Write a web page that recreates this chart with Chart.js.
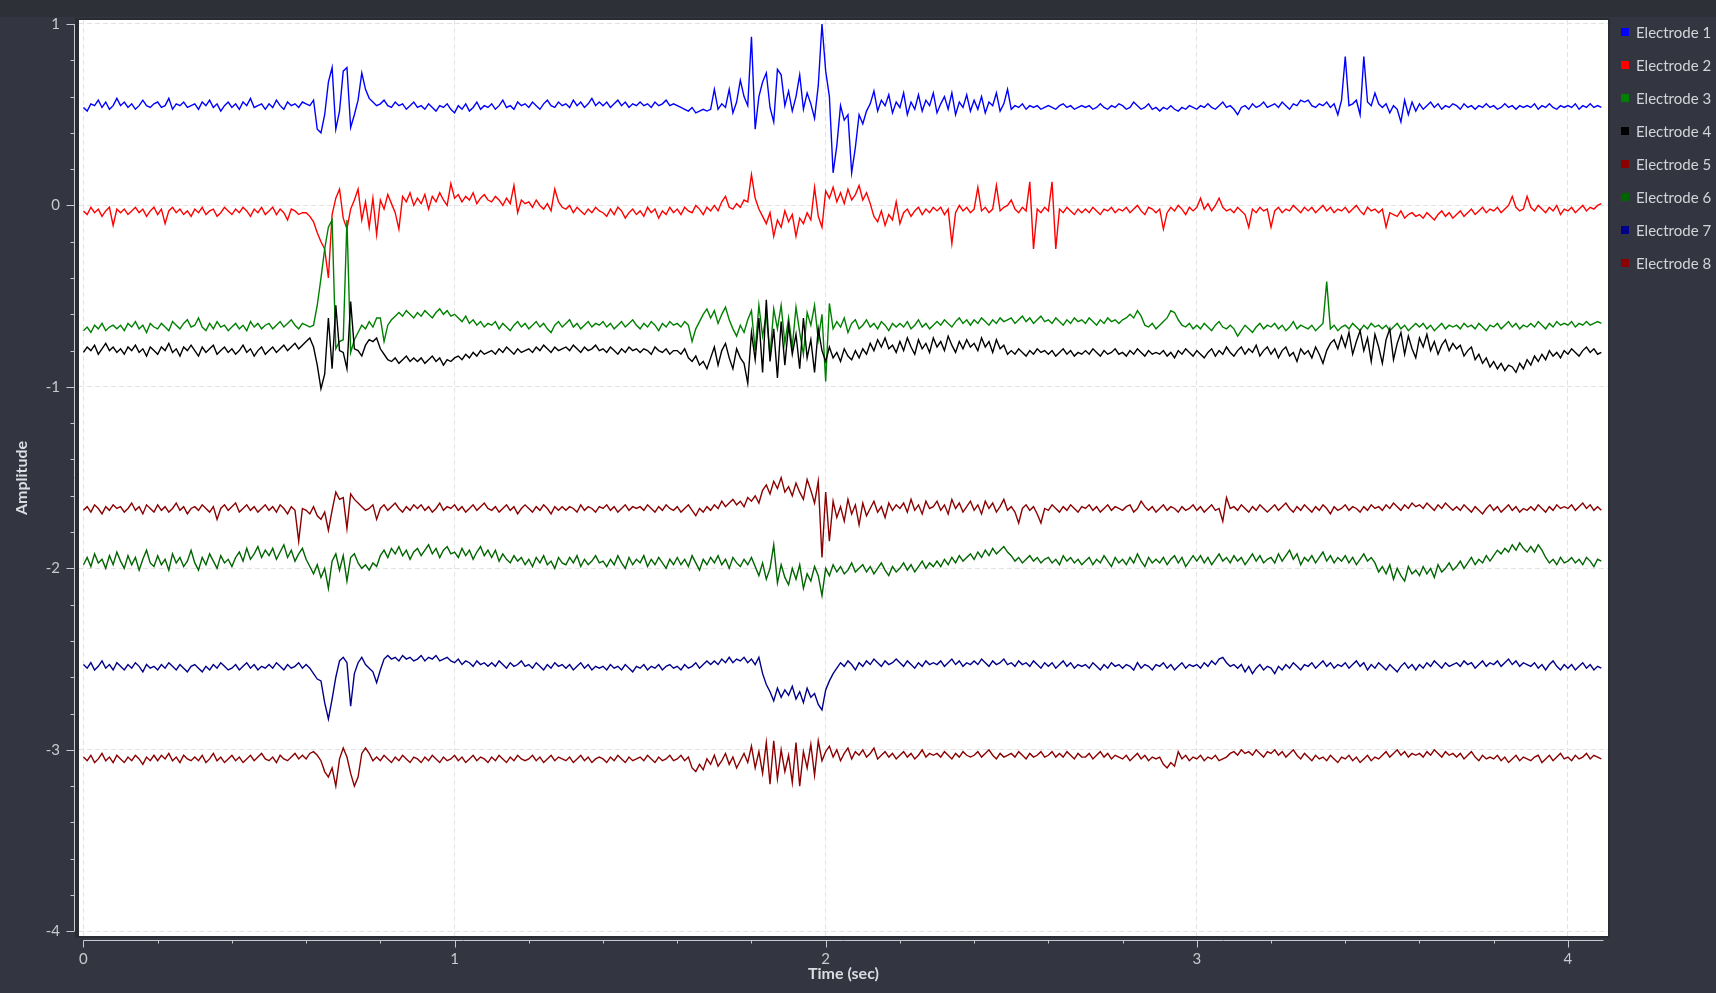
<!DOCTYPE html>
<html>
<head>
<meta charset="utf-8">
<title>Electrodes</title>
<script src="https://cdn.jsdelivr.net/npm/chart.js@4.4.1/dist/chart.umd.min.js"></script>
<style>
  html, body { margin: 0; padding: 0; background: #333640; overflow: hidden; }
  canvas { display: block; }
</style>
</head>
<body>
<canvas id="eeg" width="1716" height="993"></canvas>
<script>
// one sample every 10 ms, amplitudes stored in hundredths
const sampleStep = 0.01;

const electrode1 = [
  54,52,56,55,58,54,57,53,55,59, 55,57,54,56,53,55,58,55,54,56, 57,54,55,59,53,56,55,57,54,55,
  56,53,57,55,58,54,56,52,55,57, 54,56,53,57,55,59,54,55,56,53, 56,54,58,55,53,57,55,56,54,57,
  56,55,58,42,40,50,68,76,42,52, 74,76,43,50,58,73,64,59,57,55, 56,58,55,54,57,55,56,53,55,57,
  54,55,53,56,54,52,55,54,56,53, 51,55,53,56,52,54,57,53,55,54, 56,53,55,58,54,55,53,57,55,56,
  54,57,55,53,56,58,55,54,57,55, 56,54,58,55,57,54,56,59,55,57, 55,57,54,56,58,55,57,54,56,55,
  57,55,56,54,57,55,56,58,55,56, 55,54,53,52,54,51,52,53,52,53, 64,53,56,54,64,51,57,69,60,55,
  93,42,60,68,73,54,46,75,72,55, 63,52,60,72,53,62,56,48,66,100, 74,60,18,33,55,47,50,18,32,50,
  45,52,56,63,52,58,55,61,51,57, 54,62,50,57,53,61,52,58,55,62, 51,56,60,53,62,50,57,54,61,52,
  58,53,60,51,57,55,62,52,56,64, 53,55,54,56,53,55,54,55,53,54, 55,54,53,55,56,54,55,53,54,55,
  54,55,53,54,56,54,53,55,54,56, 55,53,54,57,55,53,54,56,53,54, 52,54,53,55,53,52,54,53,55,54,
  53,55,54,56,54,53,55,57,54,55, 53,50,54,55,53,56,54,55,57,54, 55,56,54,57,55,53,56,55,58,57,
  58,55,54,56,55,57,54,56,50,58, 82,55,56,58,50,82,57,55,62,56, 54,56,51,55,53,46,58,50,57,52,
  56,53,55,57,54,56,53,55,54,56, 55,53,56,54,55,53,55,54,56,54, 55,53,54,56,54,55,53,55,54,55,
  54,56,53,55,54,56,54,53,55,54, 55,54,56,53,55,54,56,54,55,54
];

const electrode2 = [
  -3,-5,-1,-4,-2,-6,-3,-1,-11,-2, -4,-2,-5,-3,-1,-4,-2,-6,-3,-1, -5,-2,-10,-3,-1,-4,-2,-5,-3,-6,
  -2,-4,-1,-5,-3,-2,-6,-4,-1,-3, -5,-2,-4,-1,-3,-6,-2,-4,-1,-5, -3,-1,-5,-2,-4,-8,-2,-3,-5,-4,
  -4,-6,-9,-15,-20,-24,-40,-5,4,9, -7,-13,-2,3,9,-8,2,-12,4,-16, 3,-2,6,1,-4,-13,5,2,7,0,
  4,1,6,-2,5,2,7,3,0,12, 4,6,2,5,3,7,1,4,6,3, 2,5,3,0,4,1,11,-4,3,1,
  2,-1,3,0,-2,1,-3,9,2,-1, -2,0,-4,-1,-3,-5,-2,-4,-1,-3, -4,-6,-2,-5,-1,-3,-7,-4,-2,-5,
  -3,-6,-1,-4,-2,-7,-3,-5,-1,-4, -2,-5,-1,-3,-4,0,-2,-5,-1,-3, 0,-3,2,5,-1,-2,1,-1,3,2,
  17,4,-2,-6,-10,-4,-17,-8,-12,-3, -9,-5,-17,-7,-10,-4,-8,10,-6,-12, 8,4,10,2,7,1,9,3,6,11,
  3,7,1,-6,-9,-3,-11,-5,-8,2, -10,-4,-2,-6,-3,-1,-5,-2,-4,-1, -3,-1,-5,-2,-21,-4,0,-3,-1,-4,
  -2,10,-3,-1,-4,-2,11,-3,-1,0, 3,-2,-4,-1,-3,13,-24,-2,-4,-1, -3,13,-24,-2,-4,-1,-3,-5,-2,-4,
  -2,-4,-1,-3,-5,-2,-3,-1,-4,-2, -3,-1,-4,-2,0,-3,-5,-1,-2,-4, -2,-13,-4,-1,-3,0,-2,-5,-1,-3,
  -1,4,-2,1,-3,0,4,-1,-3,-2, -4,-1,-3,-5,-12,-2,-4,-1,-3,-2, -12,-3,-1,-4,-2,-3,0,-2,-4,-1,
  -3,-1,-4,-2,0,-3,-1,-4,-2,-3, -1,-4,-2,0,-3,-5,-1,-3,-2,-4, -2,-12,-4,-5,-6,-3,-7,-5,-4,-6,
  -5,-7,-4,-6,-8,-5,-3,-6,-4,-7, -5,-3,-6,-4,-2,-5,-3,-1,-4,-2, -3,-1,-4,-2,0,5,-1,-3,-2,5,
  -1,-3,0,-2,-4,-1,-3,0,-5,-2, -3,-1,-4,-2,0,-3,-1,-2,0,1
];

const electrode3 = [
  -69,-67,-70,-66,-68,-65,-69,-67,-66,-68, -66,-69,-65,-67,-64,-68,-66,-70,-65,-67, -68,-65,-67,-69,-64,-66,-68,-65,-63,-67,
  -66,-62,-67,-69,-65,-68,-64,-67,-66,-69, -67,-65,-68,-66,-69,-64,-67,-65,-68,-66, -65,-68,-66,-64,-67,-65,-63,-66,-68,-65,
  -66,-67,-66,-55,-40,-24,-12,-8,-79,-75, -74,-8,-81,-74,-70,-66,-68,-64,-67,-62, -62,-75,-66,-63,-61,-59,-61,-58,-60,-62,
  -59,-61,-58,-60,-62,-59,-57,-60,-58,-61, -60,-62,-64,-61,-65,-63,-66,-64,-67,-65, -66,-64,-68,-65,-67,-69,-66,-64,-67,-65,
  -68,-66,-64,-67,-65,-68,-70,-66,-64,-67, -65,-63,-67,-65,-68,-66,-64,-67,-65,-66, -64,-67,-65,-68,-66,-64,-67,-65,-63,-66,
  -68,-65,-67,-64,-66,-69,-65,-67,-64,-66, -65,-67,-64,-66,-75,-68,-64,-60,-57,-62, -58,-65,-60,-56,-63,-68,-72,-66,-70,-63,
  -58,-80,-55,-72,-60,-83,-57,-68,-55,-76, -62,-78,-56,-70,-82,-59,-66,-55,-74,-60, -97,-54,-68,-64,-67,-62,-70,-65,-63,-68,
  -66,-63,-67,-65,-68,-64,-66,-69,-65,-67, -65,-67,-64,-68,-66,-63,-67,-65,-68,-66, -64,-66,-63,-65,-67,-64,-62,-65,-63,-66,
  -63,-65,-62,-64,-66,-63,-65,-62,-64,-63, -62,-65,-63,-61,-64,-62,-65,-63,-61,-64, -63,-65,-62,-64,-66,-63,-65,-62,-64,-63,
  -65,-62,-64,-66,-63,-65,-62,-64,-63,-65, -63,-62,-60,-62,-58,-61,-66,-67,-65,-68, -66,-64,-62,-58,-59,-63,-66,-67,-65,-68,
  -66,-68,-65,-67,-69,-66,-64,-67,-68,-66, -68,-72,-69,-66,-68,-70,-67,-65,-68,-66, -67,-65,-68,-66,-69,-67,-64,-68,-66,-67,
  -68,-66,-69,-67,-65,-42,-68,-66,-69,-67, -66,-68,-65,-67,-69,-66,-68,-65,-67,-66, -68,-66,-69,-67,-65,-68,-66,-69,-67,-65,
  -67,-65,-68,-66,-69,-67,-65,-68,-66,-67, -66,-68,-65,-67,-66,-68,-65,-67,-69,-66, -67,-65,-68,-66,-64,-67,-65,-68,-66,-67,
  -65,-67,-64,-66,-68,-65,-67,-64,-66,-65, -66,-64,-67,-65,-66,-64,-66,-65,-64,-65
];

const electrode4 = [
  -81,-78,-80,-77,-82,-79,-76,-80,-78,-81, -79,-82,-78,-80,-77,-81,-79,-83,-78,-80, -82,-78,-80,-76,-81,-79,-83,-78,-80,-77,
  -80,-83,-78,-81,-79,-77,-82,-80,-78,-81, -79,-82,-80,-77,-81,-79,-83,-80,-78,-82, -80,-78,-81,-79,-77,-80,-78,-76,-79,-77,
  -75,-73,-78,-88,-101,-93,-62,-90,-55,-80, -81,-90,-53,-79,-80,-83,-77,-74,-75,-73, -79,-82,-85,-86,-84,-87,-85,-83,-86,-84,
  -86,-84,-87,-85,-83,-86,-84,-88,-85,-86, -84,-83,-85,-82,-84,-81,-83,-80,-82,-81, -80,-82,-79,-81,-78,-80,-82,-79,-81,-80,
  -79,-81,-78,-80,-77,-79,-81,-78,-80,-79, -78,-80,-77,-79,-81,-78,-80,-79,-77,-80, -79,-81,-78,-80,-82,-79,-81,-78,-80,-79,
  -81,-79,-80,-82,-78,-80,-81,-79,-82,-80, -80,-82,-79,-84,-86,-83,-88,-86,-90,-84, -78,-88,-80,-76,-84,-90,-79,-84,-87,-98,
  -70,-85,-62,-92,-52,-86,-68,-95,-64,-88, -66,-82,-71,-90,-62,-84,-74,-92,-68,-80, -86,-78,-84,-81,-86,-79,-83,-85,-80,-84,
  -79,-82,-76,-80,-74,-78,-73,-79,-77,-81, -75,-80,-73,-78,-82,-74,-79,-76,-81,-73, -78,-75,-80,-72,-77,-81,-75,-79,-74,-78,
  -76,-80,-73,-78,-75,-81,-74,-79,-77,-82, -80,-82,-79,-81,-83,-80,-82,-79,-81,-80, -82,-80,-83,-81,-79,-82,-80,-83,-81,-82,
  -80,-82,-79,-81,-83,-80,-82,-81,-79,-82, -81,-83,-80,-82,-79,-81,-83,-80,-82,-81, -82,-80,-83,-81,-84,-80,-82,-79,-81,-83,
  -80,-82,-84,-81,-79,-83,-80,-82,-78,-81, -83,-80,-78,-82,-79,-81,-77,-83,-80,-78, -82,-79,-84,-80,-78,-83,-81,-86,-79,-82,
  -80,-84,-78,-82,-87,-80,-76,-74,-79,-72, -78,-70,-82,-75,-69,-80,-73,-86,-71,-78, -87,-74,-68,-85,-76,-70,-82,-72,-79,-84,
  -73,-78,-71,-80,-75,-82,-77,-74,-80,-76, -79,-77,-83,-80,-78,-85,-82,-87,-84,-89, -86,-90,-87,-91,-88,-89,-92,-87,-90,-85,
  -88,-83,-86,-82,-85,-80,-83,-81,-84,-80, -82,-79,-81,-83,-80,-78,-81,-79,-82,-81
];

const electrode5 = [
  -168,-166,-169,-165,-167,-170,-166,-168,-165,-167, -166,-169,-167,-164,-168,-166,-170,-165,-167,-169, -165,-168,-166,-169,-167,-164,-168,-166,-170,-167,
  -166,-168,-165,-167,-169,-166,-173,-167,-165,-168, -166,-164,-169,-167,-165,-168,-166,-169,-167,-165, -168,-166,-169,-165,-167,-170,-166,-168,-185,-167,
  -168,-170,-166,-171,-173,-169,-179,-168,-158,-162, -161,-178,-159,-162,-164,-166,-168,-167,-165,-173, -167,-165,-168,-166,-164,-167,-169,-166,-168,-165,
  -167,-165,-168,-166,-169,-167,-164,-168,-166,-167, -165,-168,-166,-169,-167,-165,-168,-166,-164,-167, -168,-166,-169,-167,-165,-168,-166,-170,-167,-165,
  -167,-169,-166,-168,-165,-167,-170,-166,-168,-166, -168,-166,-167,-169,-165,-168,-166,-167,-169,-166, -167,-165,-168,-166,-169,-167,-165,-168,-166,-167,
  -166,-168,-165,-167,-169,-166,-168,-165,-167,-168, -166,-169,-167,-165,-168,-171,-167,-169,-166,-168, -165,-167,-163,-166,-164,-162,-165,-163,-166,-161,
  -163,-160,-164,-157,-154,-159,-152,-156,-150,-158, -155,-160,-153,-158,-162,-151,-157,-164,-152,-194, -158,-185,-163,-172,-166,-174,-162,-170,-165,-176,
  -164,-171,-167,-163,-169,-166,-172,-164,-168,-165, -167,-164,-169,-162,-168,-165,-170,-163,-167,-166, -163,-168,-165,-170,-162,-167,-164,-169,-166,-163,
  -168,-165,-170,-163,-167,-164,-169,-166,-162,-168, -166,-169,-175,-167,-165,-168,-166,-170,-175,-167, -168,-165,-167,-169,-166,-168,-165,-167,-169,-166,
  -167,-165,-168,-166,-169,-167,-165,-168,-166,-167, -168,-166,-165,-169,-167,-163,-166,-168,-166,-169, -167,-165,-168,-166,-167,-169,-166,-168,-167,-165,
  -168,-166,-169,-167,-165,-168,-167,-174,-161,-167, -166,-168,-165,-167,-169,-166,-168,-165,-167,-169, -167,-165,-168,-166,-164,-167,-169,-166,-168,-165,
  -167,-169,-166,-168,-165,-167,-170,-166,-168,-167, -165,-168,-166,-167,-169,-166,-168,-165,-167,-166, -168,-165,-167,-164,-166,-168,-165,-167,-164,-166,
  -165,-167,-164,-166,-168,-165,-167,-164,-166,-168, -166,-168,-165,-167,-169,-166,-168,-170,-167,-165, -168,-166,-169,-167,-165,-168,-166,-169,-167,-168,
  -166,-168,-165,-167,-169,-166,-168,-165,-167,-166, -167,-165,-168,-166,-164,-167,-165,-168,-166,-168
];

const electrode6 = [
  -198,-194,-199,-192,-197,-195,-200,-193,-198,-191, -196,-200,-193,-198,-194,-201,-195,-190,-197,-199, -193,-198,-195,-201,-192,-197,-194,-199,-196,-190,
  -197,-201,-194,-198,-192,-196,-200,-193,-197,-195, -199,-194,-191,-196,-189,-195,-192,-188,-194,-190, -193,-189,-195,-191,-187,-194,-190,-196,-192,-189,
  -195,-199,-203,-198,-205,-200,-211,-196,-192,-201, -193,-207,-194,-192,-197,-200,-198,-201,-197,-199, -193,-190,-194,-189,-192,-188,-193,-190,-195,-191,
  -189,-193,-190,-187,-192,-189,-194,-190,-188,-192, -191,-194,-189,-193,-190,-195,-191,-188,-193,-190, -194,-190,-196,-192,-195,-197,-193,-196,-194,-198,
  -195,-199,-194,-197,-193,-198,-196,-200,-194,-197, -198,-194,-197,-193,-199,-195,-198,-196,-193,-197, -196,-199,-195,-198,-193,-197,-200,-194,-198,-195,
  -197,-193,-199,-195,-198,-194,-197,-200,-195,-198, -194,-198,-195,-199,-193,-197,-201,-195,-198,-194, -197,-193,-198,-195,-200,-194,-197,-199,-195,-198,
  -194,-199,-204,-197,-206,-200,-187,-208,-198,-205, -209,-200,-206,-198,-211,-203,-207,-199,-204,-215, -200,-204,-198,-202,-199,-203,-201,-197,-202,-200,
  -198,-202,-199,-203,-200,-197,-201,-204,-199,-202, -200,-197,-201,-198,-202,-199,-196,-200,-197,-199, -196,-199,-195,-198,-194,-197,-193,-196,-194,-192,
  -195,-191,-194,-190,-193,-189,-192,-190,-188,-191, -193,-196,-194,-197,-195,-193,-196,-194,-197,-195, -194,-197,-195,-198,-193,-196,-194,-197,-195,-198,
  -196,-194,-198,-195,-197,-193,-196,-199,-194,-197, -195,-198,-194,-197,-192,-196,-199,-194,-197,-195, -197,-194,-198,-195,-193,-197,-194,-199,-196,-193,
  -196,-193,-197,-194,-198,-195,-192,-196,-194,-197, -193,-196,-194,-198,-195,-192,-196,-193,-197,-195, -194,-197,-192,-196,-193,-190,-195,-192,-198,-194,
  -196,-193,-197,-194,-191,-196,-193,-197,-194,-196, -193,-197,-194,-198,-195,-192,-196,-194,-197,-202, -199,-203,-198,-206,-200,-204,-207,-199,-203,-201,
  -204,-199,-203,-200,-205,-198,-202,-200,-197,-201, -199,-196,-200,-197,-194,-198,-195,-197,-193,-196, -193,-190,-192,-189,-191,-187,-190,-186,-189,-191,
  -188,-191,-187,-190,-194,-197,-195,-198,-194,-197, -196,-194,-197,-195,-198,-194,-196,-199,-195,-196
];

const electrode7 = [
  -253,-255,-252,-256,-254,-251,-255,-253,-256,-252, -254,-256,-253,-255,-252,-254,-257,-253,-255,-254, -256,-253,-255,-252,-254,-256,-253,-255,-257,-254,
  -253,-255,-257,-254,-256,-253,-255,-252,-254,-256, -255,-253,-256,-254,-252,-255,-253,-256,-254,-255, -253,-255,-252,-254,-256,-253,-255,-254,-252,-255,
  -253,-255,-258,-261,-262,-274,-283,-272,-260,-251, -249,-252,-276,-258,-252,-249,-253,-255,-257,-263, -256,-250,-248,-250,-249,-251,-248,-250,-249,-251,
  -250,-248,-251,-249,-250,-248,-251,-250,-249,-251, -252,-250,-253,-251,-252,-254,-251,-253,-252,-254, -252,-254,-251,-253,-255,-252,-254,-253,-251,-254,
  -253,-255,-252,-254,-256,-253,-255,-252,-254,-253, -255,-253,-256,-254,-252,-255,-253,-256,-254,-255, -254,-256,-253,-255,-254,-256,-253,-255,-257,-254,
  -255,-253,-256,-254,-255,-253,-256,-254,-253,-255, -254,-256,-253,-255,-254,-252,-255,-253,-251,-253, -251,-253,-250,-252,-249,-252,-250,-251,-249,-252,
  -250,-253,-249,-258,-264,-268,-273,-266,-271,-267, -270,-265,-272,-268,-274,-266,-271,-269,-275,-278, -267,-262,-258,-255,-252,-254,-251,-253,-256,-252,
  -254,-251,-253,-250,-252,-254,-251,-253,-252,-250, -252,-254,-251,-253,-255,-252,-254,-251,-253,-252, -253,-251,-254,-252,-250,-253,-251,-254,-252,-253,
  -251,-253,-250,-252,-254,-251,-253,-252,-250,-253, -252,-254,-251,-253,-252,-254,-251,-253,-255,-252, -254,-252,-255,-253,-251,-254,-252,-255,-253,-254,
  -253,-255,-252,-254,-256,-253,-255,-252,-254,-253, -255,-253,-254,-256,-252,-255,-253,-254,-256,-253, -254,-252,-255,-253,-256,-254,-252,-255,-253,-254,
  -253,-255,-252,-254,-251,-253,-250,-249,-252,-254, -253,-255,-253,-257,-254,-258,-255,-253,-256,-254, -255,-258,-254,-256,-253,-255,-252,-254,-256,-253,
  -254,-252,-255,-253,-251,-254,-252,-255,-253,-254, -252,-255,-253,-251,-254,-252,-256,-253,-255,-252, -254,-256,-253,-255,-257,-254,-252,-255,-253,-256,
  -253,-255,-252,-254,-251,-253,-255,-252,-254,-253, -252,-254,-251,-253,-252,-255,-253,-251,-254,-252, -253,-251,-254,-252,-250,-253,-251,-254,-252,-253,
  -254,-252,-255,-253,-256,-253,-251,-254,-256,-253, -255,-253,-256,-254,-252,-255,-253,-256,-254,-255
];

const electrode8 = [
  -304,-306,-303,-307,-305,-302,-306,-304,-307,-303, -305,-307,-304,-306,-303,-305,-308,-304,-306,-303, -306,-303,-305,-302,-306,-304,-307,-303,-305,-306,
  -304,-306,-303,-307,-305,-302,-306,-304,-307,-305, -303,-306,-304,-307,-305,-303,-306,-304,-302,-305, -306,-304,-307,-303,-305,-306,-304,-302,-305,-303,
  -305,-302,-301,-303,-306,-312,-315,-310,-320,-305, -299,-304,-313,-320,-315,-302,-299,-302,-306,-304, -306,-303,-305,-307,-304,-306,-303,-305,-307,-304,
  -305,-307,-304,-306,-303,-305,-307,-304,-306,-305, -303,-306,-304,-307,-305,-303,-306,-304,-305,-307, -304,-306,-303,-305,-307,-304,-306,-303,-305,-306,
  -305,-303,-306,-304,-307,-305,-303,-306,-304,-305, -306,-304,-307,-305,-303,-306,-304,-307,-305,-304, -305,-307,-304,-306,-303,-305,-307,-304,-306,-305,
  -304,-306,-303,-305,-307,-304,-306,-305,-303,-306, -305,-303,-306,-304,-310,-312,-308,-311,-305,-308, -303,-309,-306,-302,-308,-304,-310,-306,-302,-307,
  -298,-310,-301,-313,-296,-319,-295,-316,-300,-312, -303,-318,-296,-320,-301,-310,-297,-314,-295,-306, -301,-298,-304,-300,-306,-302,-299,-305,-301,-303,
  -300,-304,-302,-299,-305,-303,-301,-304,-302,-305, -303,-301,-304,-302,-305,-303,-300,-304,-302,-303, -302,-304,-301,-303,-305,-302,-304,-301,-303,-304,
  -303,-301,-304,-302,-300,-303,-305,-302,-304,-303, -302,-304,-301,-303,-305,-302,-304,-303,-301,-304, -303,-301,-304,-302,-304,-301,-303,-305,-302,-304,
  -304,-302,-305,-303,-301,-304,-302,-305,-303,-304, -305,-303,-306,-304,-302,-305,-303,-306,-304,-305, -304,-308,-310,-307,-309,-301,-305,-303,-306,-304,
  -305,-303,-306,-304,-305,-303,-306,-305,-304,-302, -301,-303,-300,-302,-301,-303,-300,-302,-304,-301, -302,-300,-303,-301,-304,-302,-300,-303,-305,-302,
  -304,-306,-303,-305,-304,-306,-303,-305,-307,-304, -305,-303,-306,-304,-307,-305,-303,-306,-304,-305, -303,-301,-304,-302,-300,-303,-301,-304,-302,-303,
  -302,-304,-301,-303,-300,-302,-304,-301,-303,-302, -304,-302,-305,-303,-301,-304,-306,-303,-305,-304, -305,-303,-306,-304,-307,-305,-303,-306,-304,-305,
  -306,-304,-303,-307,-305,-303,-306,-304,-302,-305, -304,-306,-303,-305,-304,-302,-305,-303,-304,-305
];

const seriesNames = ['Electrode 1', 'Electrode 2', 'Electrode 3', 'Electrode 4',
                     'Electrode 5', 'Electrode 6', 'Electrode 7', 'Electrode 8'];
const seriesValues = [electrode1, electrode2, electrode3, electrode4,
                      electrode5, electrode6, electrode7, electrode8];
const seriesColors = ['#0000ff', '#ff0000', '#008000', '#000000',
                      '#8b0000', '#006400', '#00008b', '#8b0000'];

const xTickValues = [0, 1, 2, 3, 4];
const yTickValues = [1, 0, -1, -2, -3, -4];
const xAxisEnd = 4.096;

const axisColor = '#c9cad0';
const labelColor = '#c9cad0';
const fontFamily = 'Lato, "Noto Sans", sans-serif';

const toPoints = (values) => values.map((v, i) => ({
  x: Math.round(i * sampleStep * 100) / 100,
  y: v / 100,
}));

// minor ticks every 0.2 between the major ones
const minorTicks = (from, to) => {
  const out = [];
  for (let k = Math.round(from * 5); k <= Math.round(to * 5); k++) out.push(k / 5);
  return out;
};

const figureDecor = {
  id: 'figureDecor',
  beforeDraw(chart) {
    const { ctx, width, height, chartArea: a } = chart;
    ctx.save();
    ctx.fillStyle = '#333640';
    ctx.fillRect(0, 0, width, height);
    ctx.fillStyle = '#2e3038';
    ctx.fillRect(0, 0, width, 17);
    // plot frame + white plot area
    ctx.fillStyle = '#2a2c33';
    ctx.fillRect(a.left - 4, a.top - 2, a.right - a.left + 6, a.bottom - a.top + 4);
    ctx.fillStyle = '#ffffff';
    ctx.fillRect(a.left, a.top, a.right - a.left, a.bottom - a.top);
    ctx.restore();
  },
  afterDraw(chart) {
    const { ctx, chartArea: a } = chart;
    const xs = chart.scales.x;
    const ys = chart.scales.y;
    ctx.save();
    ctx.strokeStyle = axisColor;
    ctx.lineWidth = 1;

    // y axis line, set off from the plot
    const ax = Math.round(a.left - 5) + 0.5;
    ctx.beginPath();
    ctx.moveTo(ax, ys.getPixelForValue(yTickValues[0]));
    ctx.lineTo(ax, ys.getPixelForValue(yTickValues[yTickValues.length - 1]));
    minorTicks(-4, 1).forEach((v) => {
      const py = Math.round(ys.getPixelForValue(v)) + 0.5;
      const len = yTickValues.includes(v) ? 8 : 4;
      ctx.moveTo(ax - len, py);
      ctx.lineTo(ax, py);
    });
    ctx.stroke();

    // x axis line
    const ay = Math.round(a.bottom + 4) + 0.5;
    ctx.beginPath();
    ctx.moveTo(xs.getPixelForValue(0), ay);
    ctx.lineTo(xs.getPixelForValue(xAxisEnd), ay);
    minorTicks(0, 4).forEach((v) => {
      const px = Math.round(xs.getPixelForValue(v)) + 0.5;
      const len = xTickValues.includes(v) ? 7 : 3;
      ctx.moveTo(px, ay);
      ctx.lineTo(px, ay + len);
    });
    ctx.stroke();

    // legend
    ctx.font = '15px ' + fontFamily;
    ctx.textBaseline = 'middle';
    ctx.textAlign = 'left';
    chart.data.datasets.forEach((ds, i) => {
      const cy = 32 + i * 33;
      ctx.fillStyle = ds.borderColor;
      ctx.fillRect(1621, cy - 4, 8, 8);
      ctx.fillStyle = '#d3d4d9';
      ctx.fillText(ds.label, 1636, cy + 1);
    });
    ctx.restore();
  },
};

new Chart(document.getElementById('eeg'), {
  type: 'line',
  data: {
    datasets: seriesNames.map((name, i) => ({
      label: name,
      data: toPoints(seriesValues[i]),
      borderColor: seriesColors[i],
      backgroundColor: seriesColors[i],
      borderWidth: 1.4,
      pointRadius: 0,
      tension: 0,
      fill: false,
      order: seriesNames.length - i,
    })),
  },
  options: {
    responsive: false,
    animation: false,
    devicePixelRatio: 1,
    layout: { padding: { top: 20, right: 108, left: 0, bottom: 0 } },
    plugins: {
      legend: { display: false },
      tooltip: { enabled: false },
    },
    scales: {
      x: {
        type: 'linear',
        min: -0.012,
        max: 4.108,
        afterBuildTicks: (s) => { s.ticks = xTickValues.map((v) => ({ value: v })); },
        afterFit: (s) => { s.height = 57; s.paddingLeft = 0; s.paddingRight = 0; },
        grid: { color: '#e2e2e2', lineWidth: 1, drawTicks: false },
        border: { display: false, dash: [5, 3] },
        ticks: {
          padding: 14,
          color: labelColor,
          font: { family: fontFamily, size: 15 },
          maxRotation: 0,
          callback: (v) => String(v),
        },
        title: {
          display: true,
          text: 'Time (sec)',
          color: '#dcdde2',
          font: { family: fontFamily, size: 16, weight: 'bold' },
          padding: { top: 0, bottom: 10 },
        },
      },
      y: {
        type: 'linear',
        min: -4.026,
        max: 1.022,
        afterBuildTicks: (s) => { s.ticks = yTickValues.map((v) => ({ value: v })); },
        afterFit: (s) => { s.width = 79; s.paddingTop = 0; s.paddingBottom = 0; },
        grid: { color: '#e2e2e2', lineWidth: 1, drawTicks: false },
        border: { display: false, dash: [5, 3] },
        ticks: {
          padding: 19,
          color: labelColor,
          font: { family: fontFamily, size: 15 },
          callback: (v) => String(v),
        },
        title: {
          display: true,
          text: 'Amplitude',
          color: '#dcdde2',
          font: { family: fontFamily, size: 16, weight: 'bold' },
          padding: { top: 12, bottom: 0 },
        },
      },
    },
  },
  plugins: [figureDecor],
});
</script>
</body>
</html>
